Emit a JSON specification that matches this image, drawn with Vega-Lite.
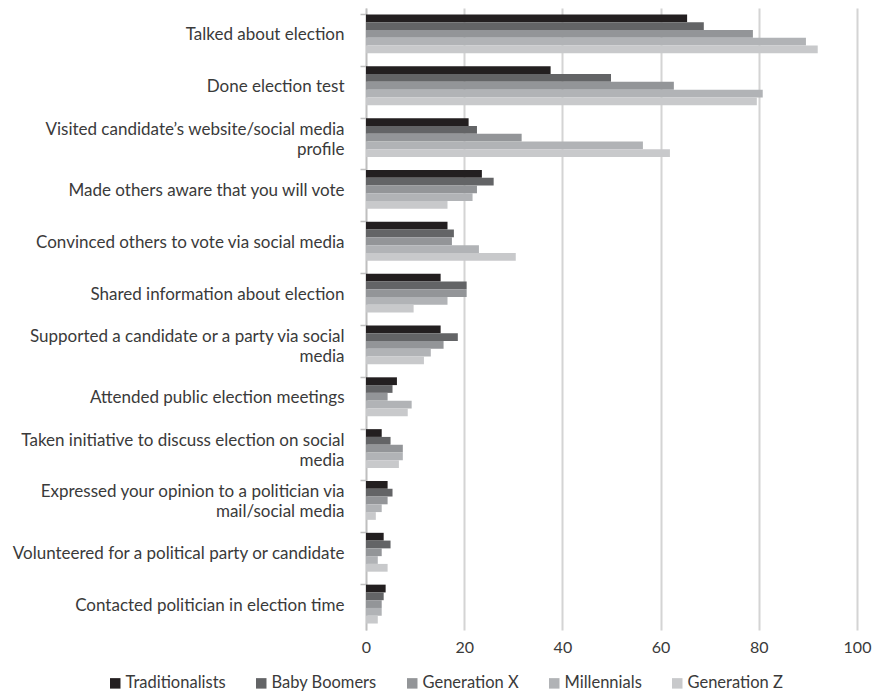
{
  "$schema": "https://vega.github.io/schema/vega-lite/v6.json",
  "autosize": {"type": "none"},
  "width": 491,
  "height": 622,
  "padding": {"left": 366, "top": 8, "right": 19, "bottom": 63},
  "background": "white",
  "config": {
    "view": {"stroke": null},
    "font": "Lato",
    "axis": {"labelFont": "Lato", "labelColor": "#3a3a3a"},
    "legend": {"labelFont": "Lato", "labelColor": "#3a3a3a"}
  },
  "data": {
    "values": [
      {"activity": "Talked about election", "group": "Traditionalists", "value": 65.4},
      {"activity": "Talked about election", "group": "Baby Boomers", "value": 68.8},
      {"activity": "Talked about election", "group": "Generation X", "value": 78.8},
      {"activity": "Talked about election", "group": "Millennials", "value": 89.6},
      {"activity": "Talked about election", "group": "Generation Z", "value": 92.0},
      {"activity": "Done election test", "group": "Traditionalists", "value": 37.6},
      {"activity": "Done election test", "group": "Baby Boomers", "value": 49.9},
      {"activity": "Done election test", "group": "Generation X", "value": 62.7},
      {"activity": "Done election test", "group": "Millennials", "value": 80.8},
      {"activity": "Done election test", "group": "Generation Z", "value": 79.6},
      {"activity": "Visited candidate’s website/social media profile", "group": "Traditionalists", "value": 20.9},
      {"activity": "Visited candidate’s website/social media profile", "group": "Baby Boomers", "value": 22.6},
      {"activity": "Visited candidate’s website/social media profile", "group": "Generation X", "value": 31.7},
      {"activity": "Visited candidate’s website/social media profile", "group": "Millennials", "value": 56.4},
      {"activity": "Visited candidate’s website/social media profile", "group": "Generation Z", "value": 61.9},
      {"activity": "Made others aware that you will vote", "group": "Traditionalists", "value": 23.6},
      {"activity": "Made others aware that you will vote", "group": "Baby Boomers", "value": 26.0},
      {"activity": "Made others aware that you will vote", "group": "Generation X", "value": 22.6},
      {"activity": "Made others aware that you will vote", "group": "Millennials", "value": 21.7},
      {"activity": "Made others aware that you will vote", "group": "Generation Z", "value": 16.6},
      {"activity": "Convinced others to vote via social media", "group": "Traditionalists", "value": 16.6},
      {"activity": "Convinced others to vote via social media", "group": "Baby Boomers", "value": 17.9},
      {"activity": "Convinced others to vote via social media", "group": "Generation X", "value": 17.5},
      {"activity": "Convinced others to vote via social media", "group": "Millennials", "value": 23.0},
      {"activity": "Convinced others to vote via social media", "group": "Generation Z", "value": 30.5},
      {"activity": "Shared information about election", "group": "Traditionalists", "value": 15.2},
      {"activity": "Shared information about election", "group": "Baby Boomers", "value": 20.5},
      {"activity": "Shared information about election", "group": "Generation X", "value": 20.5},
      {"activity": "Shared information about election", "group": "Millennials", "value": 16.6},
      {"activity": "Shared information about election", "group": "Generation Z", "value": 9.7},
      {"activity": "Supported a candidate or a party via social media", "group": "Traditionalists", "value": 15.2},
      {"activity": "Supported a candidate or a party via social media", "group": "Baby Boomers", "value": 18.7},
      {"activity": "Supported a candidate or a party via social media", "group": "Generation X", "value": 15.8},
      {"activity": "Supported a candidate or a party via social media", "group": "Millennials", "value": 13.2},
      {"activity": "Supported a candidate or a party via social media", "group": "Generation Z", "value": 11.8},
      {"activity": "Attended public election meetings", "group": "Traditionalists", "value": 6.3},
      {"activity": "Attended public election meetings", "group": "Baby Boomers", "value": 5.4},
      {"activity": "Attended public election meetings", "group": "Generation X", "value": 4.4},
      {"activity": "Attended public election meetings", "group": "Millennials", "value": 9.3},
      {"activity": "Attended public election meetings", "group": "Generation Z", "value": 8.5},
      {"activity": "Taken initiative to discuss election on social media", "group": "Traditionalists", "value": 3.2},
      {"activity": "Taken initiative to discuss election on social media", "group": "Baby Boomers", "value": 5.0},
      {"activity": "Taken initiative to discuss election on social media", "group": "Generation X", "value": 7.5},
      {"activity": "Taken initiative to discuss election on social media", "group": "Millennials", "value": 7.5},
      {"activity": "Taken initiative to discuss election on social media", "group": "Generation Z", "value": 6.7},
      {"activity": "Expressed your opinion to a politician via mail/social media", "group": "Traditionalists", "value": 4.4},
      {"activity": "Expressed your opinion to a politician via mail/social media", "group": "Baby Boomers", "value": 5.4},
      {"activity": "Expressed your opinion to a politician via mail/social media", "group": "Generation X", "value": 4.4},
      {"activity": "Expressed your opinion to a politician via mail/social media", "group": "Millennials", "value": 3.2},
      {"activity": "Expressed your opinion to a politician via mail/social media", "group": "Generation Z", "value": 2.0},
      {"activity": "Volunteered for a political party or candidate", "group": "Traditionalists", "value": 3.6},
      {"activity": "Volunteered for a political party or candidate", "group": "Baby Boomers", "value": 5.0},
      {"activity": "Volunteered for a political party or candidate", "group": "Generation X", "value": 3.2},
      {"activity": "Volunteered for a political party or candidate", "group": "Millennials", "value": 2.4},
      {"activity": "Volunteered for a political party or candidate", "group": "Generation Z", "value": 4.4},
      {"activity": "Contacted politician in election time", "group": "Traditionalists", "value": 4.0},
      {"activity": "Contacted politician in election time", "group": "Baby Boomers", "value": 3.6},
      {"activity": "Contacted politician in election time", "group": "Generation X", "value": 3.2},
      {"activity": "Contacted politician in election time", "group": "Millennials", "value": 3.2},
      {"activity": "Contacted politician in election time", "group": "Generation Z", "value": 2.4}
    ]
  },
  "mark": {"type": "bar", "cornerRadius": 0},
  "encoding": {
    "y": {
      "field": "activity",
      "type": "nominal",
      "sort": null,
      "scale": {"paddingInner": 0.25, "paddingOuter": 0.125},
      "axis": {
        "title": null,
        "domainColor": "#bfbfbf",
        "domainWidth": 1.5,
        "tickColor": "#bfbfbf",
        "tickWidth": 1.5,
        "tickSize": 6,
        "bandPosition": 0,
        "labelFontSize": 17,
        "labelPadding": 16,
        "labelLimit": 400,
        "labelLineHeight": 20,
        "labelOffset": {
          "condition": {
            "test": "datum.value == 'Visited candidate’s website/social media profile' || datum.value == 'Supported a candidate or a party via social media' || datum.value == 'Taken initiative to discuss election on social media' || datum.value == 'Expressed your opinion to a politician via mail/social media'",
            "value": -8
          },
          "value": 1.5
        },
        "labelExpr": "datum.value == 'Visited candidate’s website/social media profile' ? ['Visited candidate’s website/social media', 'profile'] : datum.value == 'Supported a candidate or a party via social media' ? ['Supported a candidate or a party via social', 'media'] : datum.value == 'Taken initiative to discuss election on social media' ? ['Taken initiative to discuss election on social', 'media'] : datum.value == 'Expressed your opinion to a politician via mail/social media' ? ['Expressed your opinion to a politician via', 'mail/social media'] : datum.value"
      }
    },
    "yOffset": {
      "field": "group",
      "type": "nominal",
      "sort": ["Traditionalists", "Baby Boomers", "Generation X", "Millennials", "Generation Z"]
    },
    "x": {
      "field": "value",
      "type": "quantitative",
      "scale": {"domain": [0, 100], "nice": false},
      "axis": {
        "title": null,
        "values": [0, 20, 40, 60, 80, 100],
        "domain": false,
        "ticks": false,
        "grid": true,
        "gridColor": "#d4d4d4",
        "gridWidth": 2,
        "labelFontSize": 16,
        "labelPadding": 9,
        "labelFlush": false
      }
    },
    "color": {
      "field": "group",
      "type": "nominal",
      "sort": ["Traditionalists", "Baby Boomers", "Generation X", "Millennials", "Generation Z"],
      "scale": {
        "domain": ["Traditionalists", "Baby Boomers", "Generation X", "Millennials", "Generation Z"],
        "range": ["#231f20", "#636466", "#939598", "#b1b3b6", "#c8c9cb"]
      },
      "legend": {
        "title": null,
        "orient": "none",
        "direction": "horizontal",
        "legendX": -259,
        "legendY": 667,
        "symbolType": "square",
        "symbolSize": 110,
        "symbolStrokeWidth": 0,
        "symbolOpacity": 1,
        "labelFontSize": 16.5,
        "labelOffset": 2,
        "columnPadding": 27,
        "labelLimit": 300
      }
    }
  }
}
